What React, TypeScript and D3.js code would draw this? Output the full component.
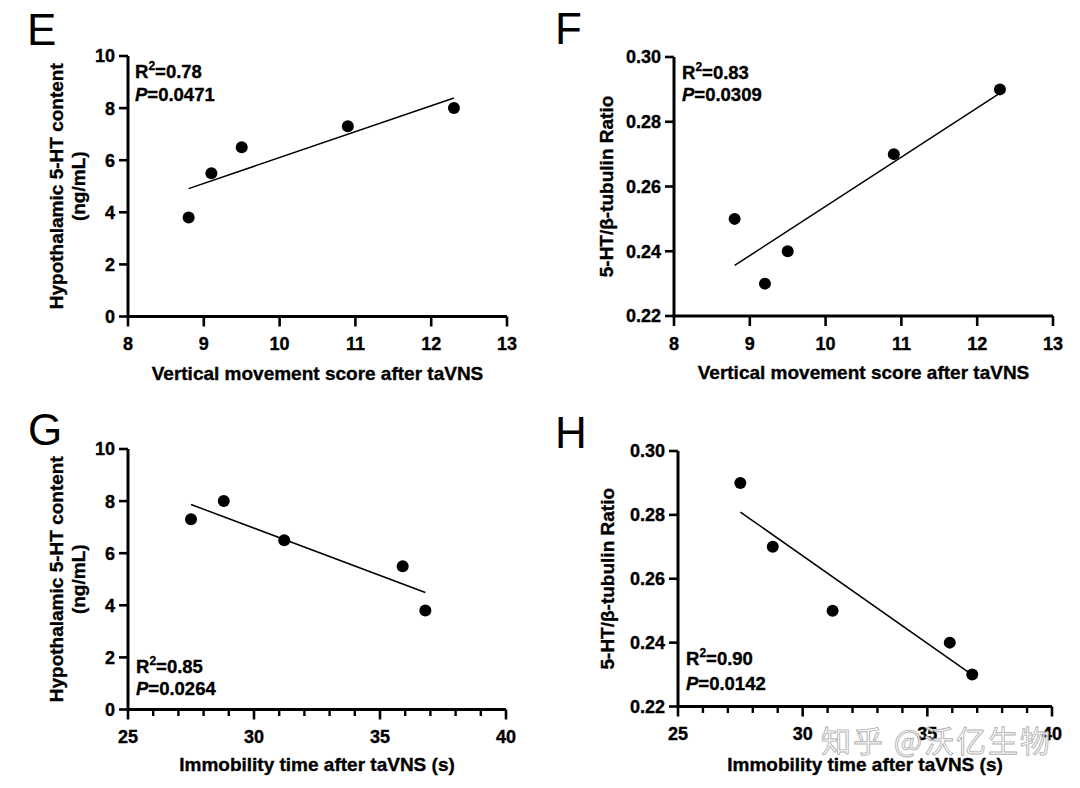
import React from "react";
import * as d3 from "d3";

// ---------- data ----------
const verticalScoreE = [8.8, 9.1, 9.5, 10.9, 12.3];
const htContentE = [3.8, 5.5, 6.5, 7.3, 8.0];

const verticalScoreF = [8.8, 9.2, 9.5, 10.9, 12.3];
const ratioF = [0.25, 0.23, 0.24, 0.27, 0.29];

const immobilityG = [27.5, 28.8, 31.2, 35.9, 36.8];
const htContentG = [7.3, 8.0, 6.5, 5.5, 3.8];

const immobilityH = [27.5, 28.8, 31.2, 35.9, 36.8];
const ratioH = [0.29, 0.27, 0.25, 0.24, 0.23];

const panelLetters = ["E", "F", "G", "H"];
const r2Labels = ["0.78", "0.83", "0.85", "0.90"];
const pLabels = ["0.0471", "0.0309", "0.0264", "0.0142"];

const xTitleVertical = "Vertical movement score after taVNS";
const xTitleImmobility = "Immobility time after taVNS (s)";
const yTitleContent = ["Hypothalamic 5-HT content", "(ng/mL)"];
const yTitleRatio = ["5-HT/\u03b2-tubulin Ratio"];

const verticalTicks = [8, 9, 10, 11, 12, 13];
const immobilityMajorTicks = [25, 30, 35, 40];
const immobilityMinorTicks = d3.range(25, 41, 1);
const contentTicks = [0, 2, 4, 6, 8, 10];
const ratioTicks = [0.22, 0.24, 0.26, 0.28, 0.3];

const watermark = "知乎 @沃亿生物";

// ---------- layout ----------
const FONT = "'Liberation Sans', Arial, Helvetica, sans-serif";
const BOLD = { fontFamily: FONT, fontWeight: "bold" as const, stroke: "#000", strokeWidth: 0.35 };

type Panel = {
  letter: string;
  xs: number[];
  ys: number[];
  xDomain: [number, number];
  yDomain: [number, number];
  xMajor: number[];
  xMinor: number[];
  yTicks: number[];
  yFmt: (v: number) => string;
  xTitle: string;
  yTitle: string[];
  r2: string;
  p: string;
  box: { x0: number; x1: number; yTop: number; yBot: number };
  letterPos: [number, number];
  annPos: [number, number, number];
  yTitleX: number[];
  xTitleY: number;
};

const fmtInt = d3.format("d");
const fmt2 = d3.format(".2f");

const panels: Panel[] = [
  {
    letter: panelLetters[0],
    xs: verticalScoreE,
    ys: htContentE,
    xDomain: [8, 13],
    yDomain: [0, 10],
    xMajor: verticalTicks,
    xMinor: [],
    yTicks: contentTicks,
    yFmt: fmtInt,
    xTitle: xTitleVertical,
    yTitle: yTitleContent,
    r2: r2Labels[0],
    p: pLabels[0],
    box: { x0: 128, x1: 507, yTop: 56, yBot: 316.5 },
    letterPos: [27, 45],
    annPos: [135, 78, 100.5],
    yTitleX: [56, 78],
    xTitleY: 380,
  },
  {
    letter: panelLetters[1],
    xs: verticalScoreF,
    ys: ratioF,
    xDomain: [8, 13],
    yDomain: [0.22, 0.3],
    xMajor: verticalTicks,
    xMinor: [],
    yTicks: ratioTicks,
    yFmt: fmt2,
    xTitle: xTitleVertical,
    yTitle: yTitleRatio,
    r2: r2Labels[1],
    p: pLabels[1],
    box: { x0: 674, x1: 1053, yTop: 57, yBot: 316 },
    letterPos: [555, 44],
    annPos: [682, 79, 101],
    yTitleX: [606],
    xTitleY: 378.5,
  },
  {
    letter: panelLetters[2],
    xs: immobilityG,
    ys: htContentG,
    xDomain: [25, 40],
    yDomain: [0, 10],
    xMajor: immobilityMajorTicks,
    xMinor: immobilityMinorTicks,
    yTicks: contentTicks,
    yFmt: fmtInt,
    xTitle: xTitleImmobility,
    yTitle: yTitleContent,
    r2: r2Labels[2],
    p: pLabels[2],
    box: { x0: 128, x1: 506, yTop: 449, yBot: 709.5 },
    letterPos: [28, 445],
    annPos: [136, 672.5, 695],
    yTitleX: [56, 78],
    xTitleY: 771,
  },
  {
    letter: panelLetters[3],
    xs: immobilityH,
    ys: ratioH,
    xDomain: [25, 40],
    yDomain: [0.22, 0.3],
    xMajor: immobilityMajorTicks,
    xMinor: immobilityMinorTicks,
    yTicks: ratioTicks,
    yFmt: fmt2,
    xTitle: xTitleImmobility,
    yTitle: yTitleRatio,
    r2: r2Labels[3],
    p: pLabels[3],
    box: { x0: 678, x1: 1052, yTop: 451, yBot: 706.5 },
    letterPos: [555, 447.5],
    annPos: [686, 665, 690],
    yTitleX: [607],
    xTitleY: 771,
  },
];

function linearFit(xs: number[], ys: number[]) {
  const mx = d3.mean(xs) as number;
  const my = d3.mean(ys) as number;
  let sxy = 0;
  let sxx = 0;
  xs.forEach((x, i) => {
    sxy += (x - mx) * (ys[i] - my);
    sxx += (x - mx) * (x - mx);
  });
  const slope = sxy / sxx;
  return (x: number) => my + slope * (x - mx);
}

function PanelView({ p }: { p: Panel }) {
  const { x0, x1, yTop, yBot } = p.box;
  const xs = d3.scaleLinear().domain(p.xDomain).range([x0, x1]);
  const ys = d3.scaleLinear().domain(p.yDomain).range([yBot, yTop]);
  const fit = linearFit(p.xs, p.ys);
  const [xmin, xmax] = d3.extent(p.xs) as [number, number];
  const fitLine = d3
    .line<number>()
    .x((d) => xs(d))
    .y((d) => ys(fit(d)));
  const pts = p.xs.map((x, i) => ({ x, y: p.ys[i] }));
  const yMid = (yTop + yBot) / 2;
  const xMid = (x0 + x1) / 2;

  return (
    <g>
      {/* panel letter */}
      <text x={p.letterPos[0]} y={p.letterPos[1]} fontFamily={FONT} fontSize={44} fill="#000">
        {p.letter}
      </text>

      {/* axes */}
      <path
        d={`M${x0},${yTop}L${x0},${yBot}L${x1},${yBot}`}
        fill="none"
        stroke="#000"
        strokeWidth={3}
      />
      {p.yTicks.map((t) => (
        <g key={"yt" + t}>
          <line x1={x0 - 9} x2={x0} y1={ys(t)} y2={ys(t)} stroke="#000" strokeWidth={2.6} />
          <text x={x0 - 13} y={ys(t)} dy="0.36em" textAnchor="end" fontSize={18} {...BOLD}>
            {p.yFmt(t)}
          </text>
        </g>
      ))}
      {p.xMinor
        .filter((t) => !p.xMajor.includes(t))
        .map((t) => (
          <line
            key={"xm" + t}
            x1={xs(t)}
            x2={xs(t)}
            y1={yBot}
            y2={yBot + 6.5}
            stroke="#000"
            strokeWidth={2.4}
          />
        ))}
      {p.xMajor.map((t) => (
        <g key={"xt" + t}>
          <line x1={xs(t)} x2={xs(t)} y1={yBot} y2={yBot + 10} stroke="#000" strokeWidth={2.6} />
          <text x={xs(t)} y={yBot + 33.5} textAnchor="middle" fontSize={18} {...BOLD}>
            {fmtInt(t)}
          </text>
        </g>
      ))}

      {/* axis titles */}
      <text x={xMid} y={p.xTitleY} textAnchor="middle" fontSize={19} {...BOLD}>
        {p.xTitle}
      </text>
      {p.yTitle.map((line, i) => (
        <text
          key={"ytl" + i}
          transform={`translate(${p.yTitleX[i]},${yMid}) rotate(-90)`}
          dy="0.36em"
          textAnchor="middle"
          fontSize={19}
          {...BOLD}
        >
          {line}
        </text>
      ))}

      {/* fit line */}
      <path d={fitLine([xmin, xmax]) || ""} fill="none" stroke="#000" strokeWidth={1.5} />

      {/* points */}
      {pts.map((d, i) => (
        <circle key={"pt" + i} cx={xs(d.x)} cy={ys(d.y)} r={6} fill="#000" />
      ))}

      {/* annotation */}
      <text x={p.annPos[0]} y={p.annPos[1]} fontSize={18.5} {...BOLD}>
        R
        <tspan fontSize={12} dy={-8}>
          2
        </tspan>
        <tspan dy={8}>={p.r2}</tspan>
      </text>
      <text x={p.annPos[0]} y={p.annPos[2]} fontSize={18.5} {...BOLD}>
        <tspan fontStyle="italic">P</tspan>={p.p}
      </text>
    </g>
  );
}

export default function App() {
  return (
    <div style={{ position: "absolute", left: 0, top: 0, width: 1080, height: 788, background: "#fff" }}>
      <svg width={1080} height={788} viewBox="0 0 1080 788" style={{ display: "block" }}>
        <rect x={0} y={0} width={1080} height={788} fill="#fff" />
        {panels.map((p) => (
          <PanelView key={p.letter} p={p} />
        ))}
        <text
          x={821}
          y={752}
          fontFamily="'Noto Sans CJK SC', sans-serif"
          fontSize={30}
          letterSpacing={2}
          fill="#fff"
          fillOpacity={0.85}
          stroke="#9a9a9a"
          strokeWidth={0.9}
          strokeOpacity={0.8}
        >
          {watermark}
        </text>
      </svg>
    </div>
  );
}
